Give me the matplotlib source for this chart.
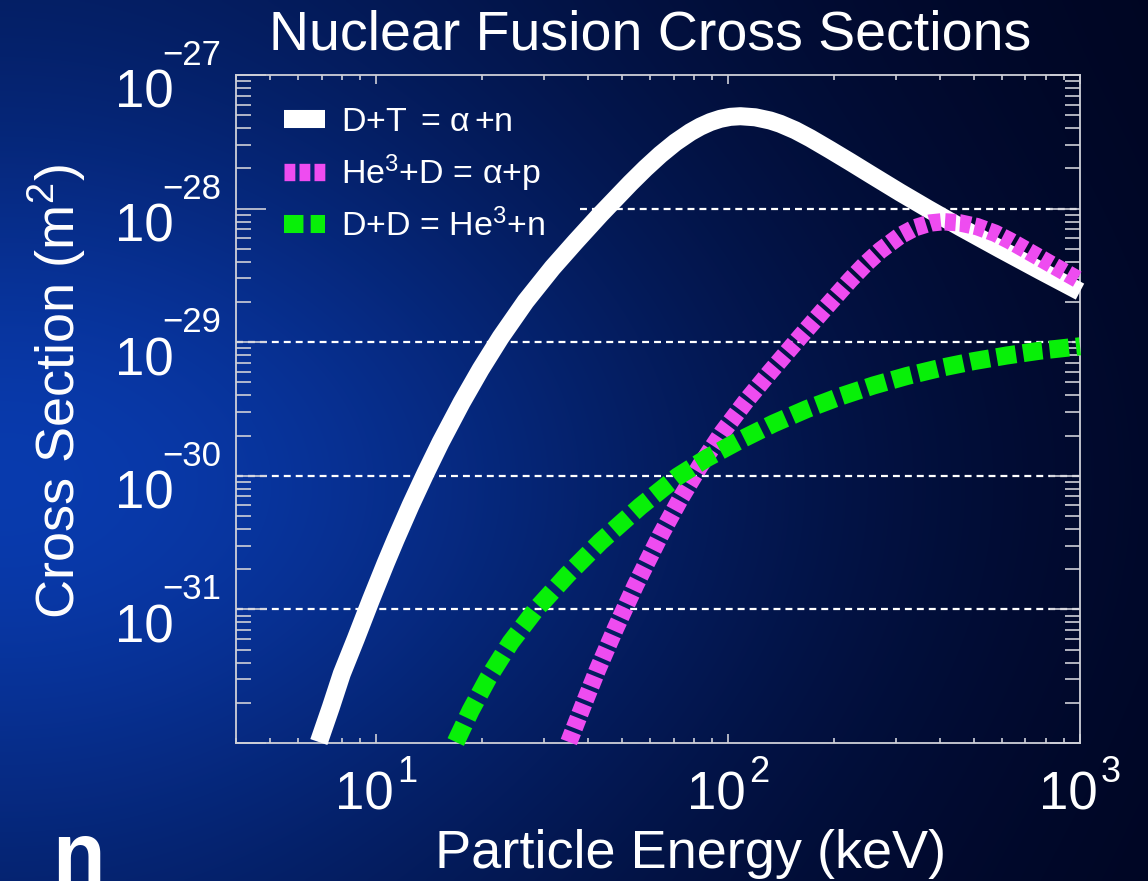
import numpy as np
import matplotlib
matplotlib.use("Agg")
import matplotlib.pyplot as plt
import matplotlib.transforms as mtrans
from matplotlib.ticker import FixedLocator, LogLocator, NullFormatter

FONT = "Liberation Sans"
plt.rcParams['font.family'] = [FONT, 'DejaVu Sans']
plt.rcParams['mathtext.fontset'] = 'custom'
plt.rcParams['mathtext.rm'] = FONT
plt.rcParams['mathtext.it'] = FONT
plt.rcParams['mathtext.bf'] = FONT + ':bold'
plt.rcParams['mathtext.default'] = 'regular'
plt.rcParams['lines.scale_dashes'] = False

# ---------------- data ----------------
title = "Nuclear Fusion Cross Sections"
xlabel = "Particle Energy (keV)"
ylabel = "Cross Section (m$^2$)"

dt_label = r"D+T$\,$ = α$\,$+n"
dhe_label = "He$^3$+D = α+p"
dd_label = "D+D = He$^3$+n"

# D + T -> alpha + n  (keV, m^2)
dt_energy = [6.877, 7.438, 7.992, 8.757, 9.660, 10.65, 11.37, 12.54, 13.84, 15.26,
             17.51, 19.82, 22.59, 26.60, 31.72, 36.87, 43.41, 52.82, 58.25, 64.25,
             70.87, 78.16, 83.44, 89.09, 95.09, 101.5, 108.4, 119.5, 131.8, 140.7,
             155.2, 171.2, 195.1, 222.3, 253.4, 308.3, 370.2, 456.2, 592.5, 769.5,
             1000]
dt_sigma = [1.017e-32, 1.850e-32, 3.296e-32, 6.015e-32, 1.172e-31, 2.217e-31,
            3.342e-31, 6.025e-31, 1.053e-30, 1.784e-30, 3.543e-30, 6.27e-30,
            1.088e-29, 2.02e-29, 3.61e-29, 5.65e-29, 9.05e-29, 1.552e-28, 2.002e-28,
            2.536e-28, 3.13e-28, 3.732e-28, 4.11e-28, 4.443e-28, 4.70e-28, 4.861e-28,
            4.915e-28, 4.824e-28, 4.563e-28, 4.313e-28, 3.859e-28, 3.365e-28,
            2.751e-28, 2.237e-28, 1.809e-28, 1.32e-28, 9.95e-29, 7.28e-29, 4.985e-29,
            3.441e-29, 2.391e-29]

# He3 + D -> alpha + p
dhe_energy = [35.29, 38.85, 42.57, 47.88, 54.56, 64.25, 73.21, 83.44, 96.35, 112.7,
              131.8, 160.4, 188.9, 222.3, 245.3, 270.5, 308.3, 340.0, 375.1, 408.3,
              456.2, 509.8, 573.5, 632.6, 795.1, 1000]
dhe_sigma = [1.017e-32, 1.942e-32, 3.531e-32, 7.194e-32, 1.515e-31, 3.585e-31,
             6.739e-31, 1.198e-30, 2.117e-30, 3.649e-30, 6.004e-30, 1.099e-29,
             1.80e-29, 2.922e-29, 3.83e-29, 4.849e-29, 6.27e-29, 7.194e-29, 7.80e-29,
             7.977e-29, 7.816e-29, 7.333e-29, 6.545e-29, 5.741e-29, 4.071e-29,
             2.886e-29]

# D + D -> He3 + n
dd_energy = [16.84, 18.56, 20.88, 24.11, 28.39, 34.99, 43.41, 56.38, 71.80, 87.18,
             108.4, 134.7, 167.6, 208.3, 258.9, 322.1, 400.3, 497.6, 619.0, 769.5,
             1000]
dd_sigma = [1.017e-32, 1.748e-32, 3.103e-32, 5.662e-32, 9.92e-32, 1.819e-31,
            3.215e-31, 5.917e-31, 9.85e-31, 1.359e-30, 1.854e-30, 2.463e-30,
            3.162e-30, 3.923e-30, 4.742e-30, 5.585e-30, 6.41e-30, 7.208e-30,
            7.95e-30, 8.638e-30, 9.318e-30]

y_major = [1e-32, 1e-31, 1e-30, 1e-29, 1e-28, 1e-27]
y_label_values = [1e-31, 1e-30, 1e-29, 1e-28, 1e-27]
y_label_exps = ["\u221231", "\u221230", "\u221229", "\u221228", "\u221227"]
x_major = [10, 100, 1000]
x_label_exps = ["1", "2", "3"]
grid_levels = [1e-31, 1e-30, 1e-29, 1e-28]

# ---------------- figure ----------------
W, H = 1148, 881
fig = plt.figure(figsize=(W / 100, H / 100), dpi=100)

# background gradient (blue glow at the left, dark navy at the right)
bg = fig.add_axes([0, 0, 1, 1], zorder=-10)
yy, xx = np.mgrid[0:1:300j, 0:1:400j]  # yy: 0 top -> 1 bottom
dark = np.array([0.0, 0.012, 0.11])
bright = np.array([0.035, 0.23, 0.68])
B = np.exp(-(xx / 0.66) ** 2) * (0.4 + 0.6 * np.exp(-((yy - 0.55) / 0.42) ** 2))
img = dark[None, None, :] + B[..., None] * (bright - dark)[None, None, :]
bg.imshow(np.clip(img, 0, 1), aspect='auto', extent=[0, 1, 0, 1], origin='upper',
          interpolation='bilinear')
bg.set_axis_off()

ax = fig.add_axes([236 / W, 1 - 743 / H, (1080 - 236) / W, (743 - 75) / H])
ax.set_facecolor('none')
ax.set_xscale('log')
ax.set_yscale('log')
ax.set_xlim(4, 1000)
ax.set_ylim(1e-32, 1e-27)

spine_col = '#cfd0d8'
for s in ax.spines.values():
    s.set_color(spine_col)
    s.set_linewidth(1.3)

# dashed horizontal guide lines
for lv in grid_levels:
    xs = 38 if lv == 1e-28 else 4
    ax.hlines(lv, xs, 1000, colors='white', linewidth=1.6,
              linestyles=(0, (5.0, 3.6)), zorder=1)

ax.plot(dt_energy, dt_sigma, color='white', lw=13, solid_capstyle='butt',
        solid_joinstyle='round', label=dt_label, zorder=3, clip_on=False)
ax.plot(dhe_energy, dhe_sigma, color='#ee4cf0', lw=12.5, dashes=(7.8, 3.0),
        dash_capstyle='butt', label=dhe_label, zorder=4, clip_on=False)
ax.plot(dd_energy, dd_sigma, color='#08f008', lw=13, dashes=(14.0, 5.2),
        dash_capstyle='butt', label=dd_label, zorder=5, clip_on=False)

# ticks
ax.yaxis.set_major_locator(FixedLocator(y_major))
ax.yaxis.set_major_formatter(NullFormatter())
ax.yaxis.set_minor_locator(LogLocator(base=10, subs=np.arange(2, 10), numticks=50))
ax.yaxis.set_minor_formatter(NullFormatter())
ax.xaxis.set_major_locator(FixedLocator(x_major))
ax.xaxis.set_major_formatter(NullFormatter())
ax.xaxis.set_minor_locator(LogLocator(base=10, subs=np.arange(2, 10), numticks=50))
ax.xaxis.set_minor_formatter(NullFormatter())

ax.tick_params(axis='y', which='major', direction='in', length=21.5, width=1.2,
               left=True, right=True, colors=spine_col)
ax.tick_params(axis='y', which='minor', direction='in', length=11, width=1.2,
               left=True, right=True, colors=spine_col)
ax.tick_params(axis='x', which='major', direction='in', length=6.5, width=1.2,
               bottom=True, top=True, colors=spine_col)
ax.tick_params(axis='x', which='minor', direction='in', length=3.6, width=1.2,
               bottom=True, top=True, colors=spine_col)

# tick labels in the "10 with raised exponent" style
ytr = mtrans.blended_transform_factory(ax.transAxes, ax.transData)
for v, e in zip(y_label_values, y_label_exps):
    ax.text(0, v, "10", color='white', fontsize=38, ha='right', va='baseline',
            transform=mtrans.offset_copy(ytr, fig=fig, x=-62, y=-33, units='dots'))
    ax.text(0, v, e, color='white', fontsize=25, ha='right', va='baseline',
            transform=mtrans.offset_copy(ytr, fig=fig, x=-15, y=10, units='dots'))
xtr = mtrans.blended_transform_factory(ax.transData, ax.transAxes)
for v, e in zip(x_major, x_label_exps):
    ax.text(v, 0, "10", color='white', fontsize=38, ha='center', va='baseline',
            transform=mtrans.offset_copy(xtr, fig=fig, x=-12, y=-67, units='dots'))
    ax.text(v, 0, e, color='white', fontsize=26, ha='left', va='baseline',
            transform=mtrans.offset_copy(xtr, fig=fig, x=21, y=-39, units='dots'))

# legend
leg = ax.legend(loc='upper left', bbox_to_anchor=(284 / W, 1 - 107 / H),
                bbox_transform=fig.transFigure, frameon=False, fontsize=24.5,
                handlelength=1.2, handletextpad=0.47, labelspacing=0.43,
                borderpad=0, borderaxespad=0)
for txt in leg.get_texts():
    txt.set_color('white')

# titles
fig.text(650 / W, 1 - 50 / H, title, color='white', fontsize=40,
         ha='center', va='baseline')
fig.text(691 / W, 1 - 868 / H, xlabel, color='white', fontsize=39,
         ha='center', va='baseline')
fig.text(75 / W, 1 - 392 / H, ylabel, color='white', fontsize=39,
         ha='center', va='baseline', rotation=90, rotation_mode='anchor')
fig.text(52 / W, 1 - 882 / H, "n", color='white', fontsize=62,
         fontweight='bold', ha='left', va='baseline')

fig.savefig("out.png", dpi=100)
